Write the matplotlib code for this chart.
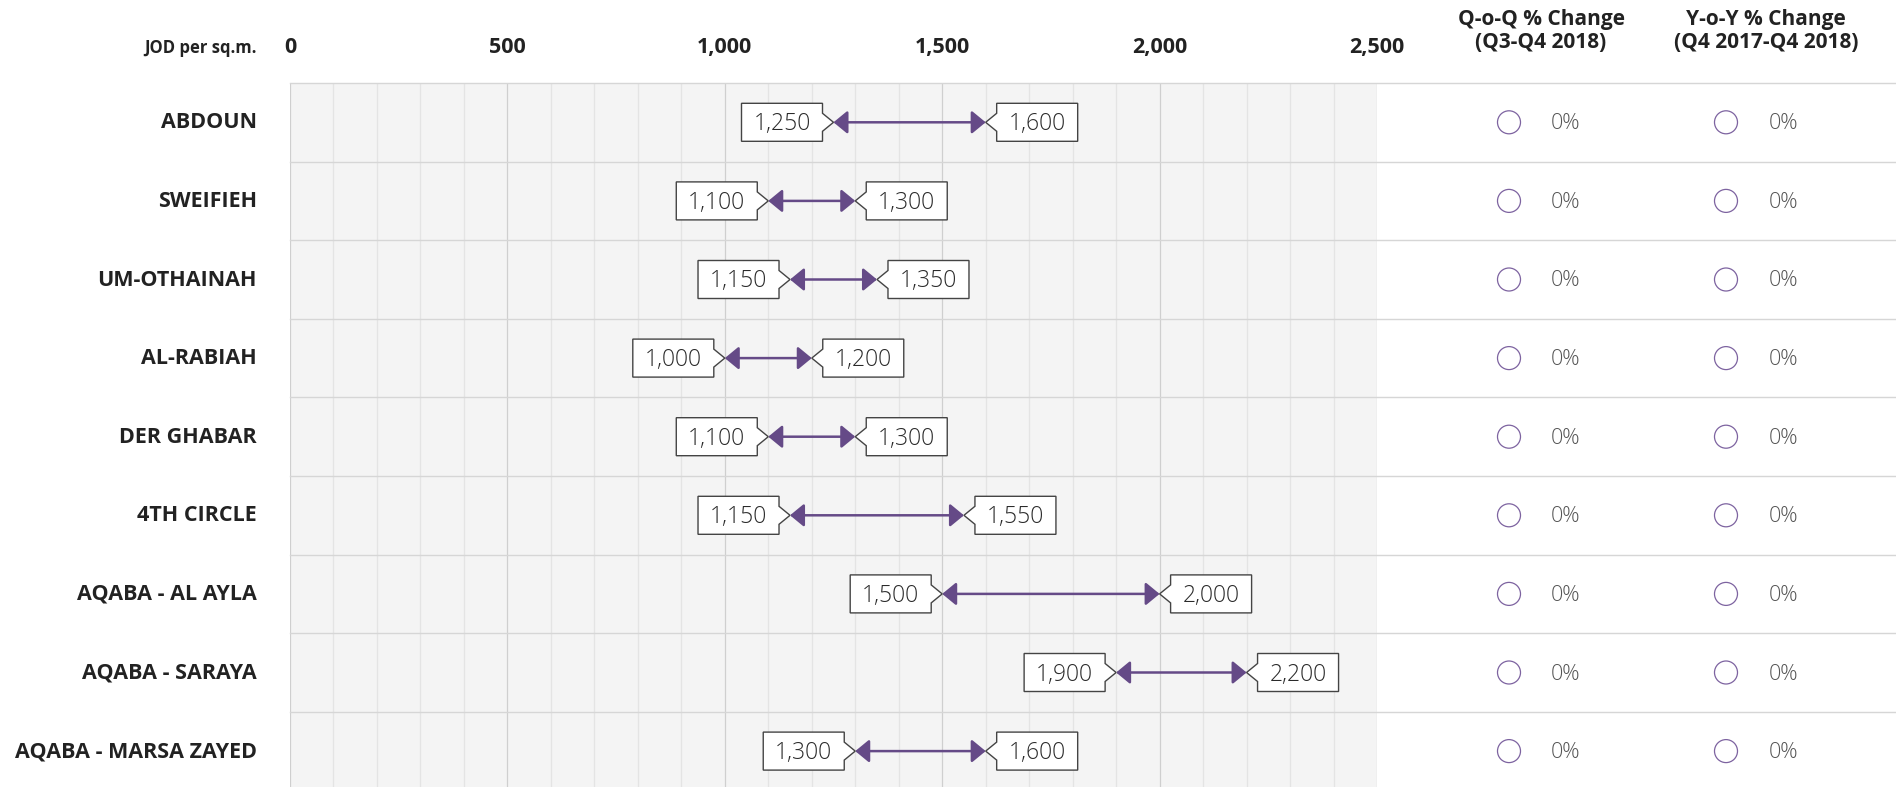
import numpy as np
import matplotlib as mpl
import matplotlib.pyplot as plt
import matplotlib.transforms as mtransforms
from matplotlib.patches import Polygon, Circle
from matplotlib.lines import Line2D

# Residential land prices, JOD per sq.m., low / high range per area
areas = [
    "ABDOUN", "SWEIFIEH", "UM-OTHAINAH", "AL-RABIAH", "DER GHABAR",
    "4TH CIRCLE", "AQABA - AL AYLA", "AQABA - SARAYA", "AQABA - MARSA ZAYED",
]
price_low = [1250, 1100, 1150, 1000, 1100, 1150, 1500, 1900, 1300]
price_high = [1600, 1300, 1350, 1200, 1300, 1550, 2000, 2200, 1600]
qoq_change = [0, 0, 0, 0, 0, 0, 0, 0, 0]
yoy_change = [0, 0, 0, 0, 0, 0, 0, 0, 0]
x_ticks = [0, 500, 1000, 1500, 2000, 2500]
unit_label = "JOD per sq.m."
col_headers = ["Q-o-Q % Change\n(Q3-Q4 2018)", "Y-o-Y % Change\n(Q4 2017-Q4 2018)"]

PURPLE = "#654a87"
TEXT = "#222222"
FONT = "Open Sans"

W, H = 1896, 787
ROW_H = 78.6
TOP = 83

mpl.rcParams["font.family"] = [FONT, "DejaVu Sans"]

fig = plt.figure(figsize=(W / 100, H / 100), dpi=100)
fig.patch.set_facecolor("white")
n = len(areas)
ax = fig.add_axes([290 / W, 1 - (TOP + n * ROW_H) / H, 1087 / W, n * ROW_H / H])
ax.set_xlim(0, 2500)
ax.set_ylim(n, 0)
ax.set_facecolor("#f4f4f4")
for s in ax.spines.values():
    s.set_visible(False)
ax.set_xticks([])
ax.set_yticks([])


def px(dx, dy):
    # pixel offset (dy positive = down)
    return mtransforms.ScaledTranslation(dx / 100, -dy / 100, fig.dpi_scale_trans)


def at(x, y, trans):
    return mtransforms.Affine2D() + mtransforms.ScaledTranslation(x, y, trans)


# vertical grid, minor every 100, major every 500
for v in range(0, 2501, 100):
    major = v % 500 == 0
    ax.axvline(v, color="#cfcfcf" if major else "#e4e4e4", lw=0.9, zorder=0.5)

fig_y = mtransforms.blended_transform_factory(fig.transFigure, ax.transData)
x_fig = mtransforms.blended_transform_factory(ax.transData, fig.transFigure)

# row separators run across the table columns too
for i in range(n + 1):
    fig.add_artist(Line2D([290 / W, 1.0], [i, i], transform=fig_y,
                          color="#d6d6d6", lw=1.0, zorder=3))

# top axis labels
for t in x_ticks:
    ax.text(t, 1 - 45 / H, f"{t:,}", transform=x_fig + px(0, 8),
            ha="center", va="baseline", fontsize=15.5, fontweight="bold",
            color=TEXT, clip_on=False)
fig.text(257 / W, 1 - 48 / H, unit_label, transform=fig.transFigure + px(0, 5),
         ha="right", va="baseline", fontsize=12, fontweight="bold", color=TEXT)

for cx, head in zip([1541, 1766], col_headers):
    fig.text(cx / W, 1 - 31 / H, head, ha="center", va="center",
             fontsize=15, fontweight="bold", color=TEXT, linespacing=1.1)

TAG_W, TIP_W, TIP_H, HALF = 81, 11, 9, 19


def tag(x, y, side):
    # label box with a small point at (x, y); side=-1 sits left, +1 right
    s = side
    verts = [
        (0, 0), (s * TIP_W, TIP_H), (s * TIP_W, HALF),
        (s * (TIP_W + TAG_W), HALF), (s * (TIP_W + TAG_W), -HALF),
        (s * TIP_W, -HALF), (s * TIP_W, -TIP_H),
    ]
    ax.add_patch(Polygon(verts, closed=True, transform=at(x, y, ax.transData),
                         facecolor="white", edgecolor="#444444", lw=1.0,
                         zorder=5, clip_on=False))
    ax.text(x, y, f"{x:,}", transform=ax.transData + px(s * (TIP_W + TAG_W / 2), 8),
            ha="center", va="baseline", fontsize=16.5, fontweight="light",
            color="#2a2a2a", zorder=6)


for i, (name, lo, hi) in enumerate(zip(areas, price_low, price_high)):
    y = i + 0.5
    fig.text(257 / W, y, name, transform=fig_y + px(0, 6), ha="right",
             va="baseline", fontsize=15.5, fontweight="bold", color=TEXT)
    ax.annotate("", xy=(hi, y), xytext=(lo, y),
                arrowprops=dict(arrowstyle="<|-|>,head_length=0.85,head_width=0.7",
                                color=PURPLE, lw=1.8, shrinkA=0, shrinkB=0,
                                mutation_scale=10), zorder=4)
    tag(lo, y, -1)
    tag(hi, y, 1)

    for cx, val in zip([1509, 1726], [qoq_change[i], yoy_change[i]]):
        fig.add_artist(Circle((0, 0), 11.5, transform=at(cx / W, y, fig_y),
                              facecolor="none", edgecolor="#7d63a0", lw=0.9))
        fig.text((cx + 57) / W, y, f"{val}%", transform=fig_y + px(0, 7),
                 ha="center", va="baseline", fontsize=15.5, fontweight="light",
                 color="#555555")

fig.savefig("out.png", dpi=100)
